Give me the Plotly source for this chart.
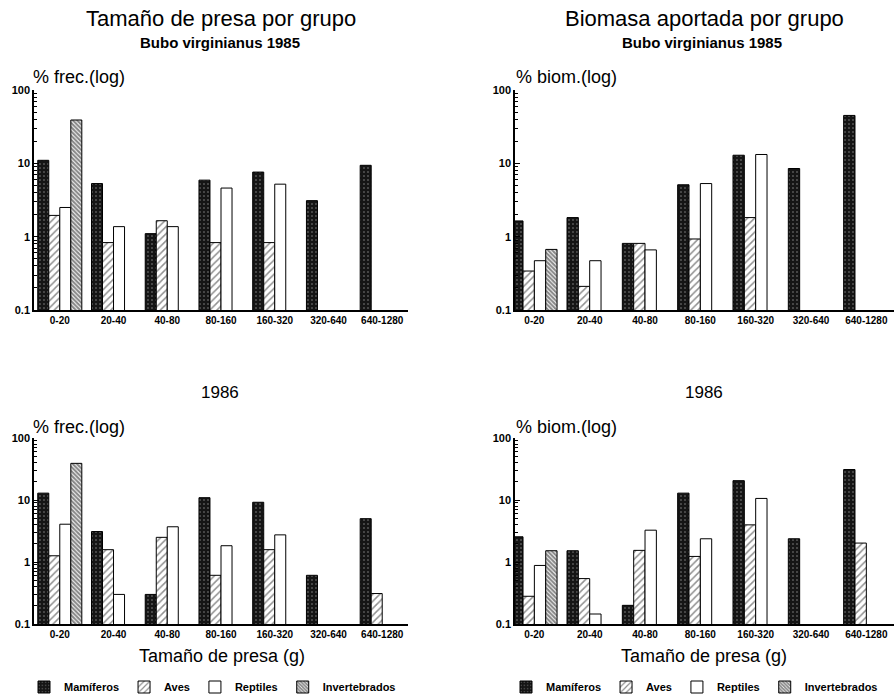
import plotly.graph_objects as go

categories = ["0-20", "20-40", "40-80", "80-160", "160-320", "320-640", "640-1280"]
groups = ["Mamíferos", "Aves", "Reptiles", "Invertebrados"]

# % frecuencia 1985
frec85_mam = [11.0, 5.3, 1.1, 5.9, 7.6, 3.1, 9.4]
frec85_ave = [1.95, 0.83, 1.65, 0.83, 0.83, None, None]
frec85_rep = [2.5, 1.37, 1.37, 4.6, 5.2, None, None]
frec85_inv = [39.0, None, None, None, None, None, None]

# % biomasa 1985
biom85_mam = [1.64, 1.82, 0.81, 5.1, 12.9, 8.5, 45.0]
biom85_ave = [0.34, 0.21, 0.81, 0.93, 1.82, None, None]
biom85_rep = [0.47, 0.47, 0.66, 5.3, 13.2, None, None]
biom85_inv = [0.67, None, None, None, None, None, None]

# % frecuencia 1986
frec86_mam = [12.9, 3.1, 0.30, 10.9, 9.2, 0.61, 5.0]
frec86_ave = [1.26, 1.58, 2.5, 0.61, 1.58, None, 0.31]
frec86_rep = [4.07, 0.30, 3.7, 1.83, 2.74, None, None]
frec86_inv = [39.0, None, None, None, None, None, None]

# % biomasa 1986
biom86_mam = [2.55, 1.52, 0.20, 12.9, 20.5, 2.37, 31.0]
biom86_ave = [0.28, 0.54, 1.54, 1.23, 3.97, None, 2.02]
biom86_rep = [0.88, 0.145, 3.26, 2.37, 10.6, None, None]
biom86_inv = [1.52, None, None, None, None, None, None]

W, H = 894, 695
FONT = "Liberation Sans, Arial, sans-serif"

def px_x(p):
    return p / W

def px_y(p):
    return 1 - p / H

styles = {
    "Mamíferos": dict(color="#151515", pattern=dict(shape=".", fgcolor="#ffffff", bgcolor="#151515", size=4, solidity=0.12)),
    "Aves": dict(color="white", pattern=dict(shape="/", fgcolor="#222222", bgcolor="white", size=5, solidity=0.3)),
    "Reptiles": dict(color="white"),
    "Invertebrados": dict(color="white", pattern=dict(shape="\\", fgcolor="#111111", bgcolor="white", size=3, solidity=0.7)),
}

panels = [
    ("", [frec85_mam, frec85_ave, frec85_rep, frec85_inv], "legend", False),
    ("2", [biom85_mam, biom85_ave, biom85_rep, biom85_inv], "legend2", False),
    ("3", [frec86_mam, frec86_ave, frec86_rep, frec86_inv], "legend", True),
    ("4", [biom86_mam, biom86_ave, biom86_rep, biom86_inv], "legend2", True),
]

fig = go.Figure()
for suf, data, leg, show in panels:
    for g, vals in zip(groups, data):
        st = styles[g]
        marker = dict(color=st["color"], line=dict(color="black", width=1))
        if "pattern" in st:
            marker["pattern"] = st["pattern"]
        fig.add_trace(go.Bar(
            x=categories, y=vals, name=g, marker=marker,
            xaxis="x" + suf, yaxis="y" + suf,
            legend=leg, showlegend=show,
        ))

minor_vals = [m * d for d in (0.1, 1, 10) for m in range(2, 10)]

def yaxis(domain, anchor):
    return dict(
        type="log", range=[-1, 2], domain=domain, anchor=anchor,
        tickvals=[0.1, 1, 10, 100], ticktext=["0.1", "1", "10", "100"],
        ticks="inside", ticklen=5, tickcolor="black", tickwidth=1,
        minor=dict(tickvals=minor_vals, ticks="inside", ticklen=3, tickcolor="black", showgrid=False),
        showline=True, linecolor="black", linewidth=1.5,
        showgrid=False, zeroline=False,
        tickfont=dict(family=FONT, size=11, color="black", weight="bold"),
    )

def xaxis(domain, anchor, rng):
    return dict(
        type="category", domain=domain, anchor=anchor, range=rng,
        showline=True, linecolor="black", linewidth=1.5,
        ticks="", showgrid=False, zeroline=False,
        tickfont=dict(family=FONT, size=10, color="black", weight="bold"),
    )

xl = [px_x(34), px_x(408)]
xr = [px_x(515), 1.0]
yt = [px_y(310), px_y(90)]
yb = [px_y(624), px_y(438)]

fig.update_layout(
    width=W, height=H,
    margin=dict(l=0, r=0, t=0, b=0, autoexpand=False),
    paper_bgcolor="white", plot_bgcolor="white",
    barmode="group", bargap=0.18, bargroupgap=0.0,
    font=dict(family=FONT, color="black"),
    xaxis=xaxis(xl, "y", [-0.48, 6.48]),
    yaxis=yaxis(yt, "x"),
    xaxis2=xaxis(xr, "y2", [-0.35, 6.5]),
    yaxis2=yaxis(yt, "x2"),
    xaxis3=xaxis(xl, "y3", [-0.48, 6.48]),
    yaxis3=yaxis(yb, "x3"),
    xaxis4=xaxis(xr, "y4", [-0.35, 6.5]),
    yaxis4=yaxis(yb, "x4"),
    legend=dict(orientation="h", x=px_x(24), y=px_y(687), xanchor="left", yanchor="middle",
                font=dict(family=FONT, size=11, color="black", weight="bold"),
                itemclick=False, bgcolor="rgba(0,0,0,0)"),
    legend2=dict(orientation="h", x=px_x(506), y=px_y(687), xanchor="left", yanchor="middle",
                 font=dict(family=FONT, size=11, color="black", weight="bold"),
                 itemclick=False, bgcolor="rgba(0,0,0,0)"),
)

ann = [
    ("Tamaño de presa por grupo", 221, 18, 22, "normal", "center"),
    ("Bubo virginianus 1985", 220, 42, 15, "bold", "center"),
    ("Biomasa aportada por grupo", 704, 18, 22, "normal", "center"),
    ("Bubo virginianus 1985", 702, 42, 15, "bold", "center"),
    ("% frec.(log)", 31, 77, 18, "normal", "left"),
    ("% biom.(log)", 514, 77, 18, "normal", "left"),
    ("1986", 220, 392, 17, "normal", "center"),
    ("1986", 704, 392, 17, "normal", "center"),
    ("% frec.(log)", 31, 427, 18, "normal", "left"),
    ("% biom.(log)", 514, 427, 18, "normal", "left"),
    ("Tamaño de presa (g)", 222, 656, 18, "normal", "center"),
    ("Tamaño de presa (g)", 704, 656, 18, "normal", "center"),
]
for text, x, y, size, weight, xa in ann:
    fig.add_annotation(
        text=text, x=px_x(x), y=px_y(y), xref="paper", yref="paper",
        xanchor=xa, yanchor="middle", showarrow=False,
        font=dict(family=FONT, size=size, color="black", weight=weight),
    )

fig.write_html(
    "out.html",
    config={"displayModeBar": False},
    post_script="document.body.style.margin='0';document.body.style.overflow='hidden';",
)
